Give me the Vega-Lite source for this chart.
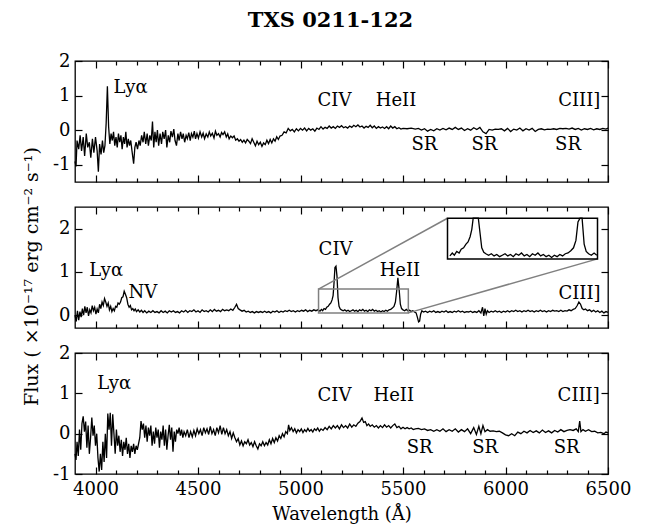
{
"$schema":"https://vega.github.io/schema/vega-lite/v6.json",
"padding":{"left":21,"top":10,"right":10,"bottom":5},
"bounds":"flush",
"title":{"text":"TXS 0211-122","font":"DejaVu Serif","fontWeight":"bold","fontSize":21,"color":"black","anchor":"middle","offset":20,"dx":4},
"config":{
 "view":{"stroke":"black","strokeWidth":1.3},
 "axis":{"grid":false,"domain":false,"labelFont":"DejaVu Serif","labelFontSize":18,"labelColor":"black","titleFont":"DejaVu Serif","titleFontSize":18,"titleFontWeight":"normal","titleColor":"black","tickColor":"black","tickWidth":1.2,"labelFlush":false,"labelOverlap":false},
 "text":{"font":"DejaVu Serif","fontSize":18,"color":"black"}
},
"spacing":25,
"datasets":{
"s1":[
{"w":3900,"f":-0.9},{"w":3905,"f":-1.05},{"w":3910,"f":-0.3},{"w":3918,"f":-0.55},{"w":3925,"f":-0.15},{"w":3932,"f":-0.6},{"w":3940,"f":-0.2},{"w":3947,"f":-0.75},{"w":3955,"f":-0.1},{"w":3962,"f":-0.5},{"w":3970,"f":-0.35},{"w":3977,"f":-0.8},{"w":3985,"f":-0.25},{"w":3992,"f":-0.65},{"w":4000,"f":-0.2},{"w":4008,"f":-0.6},{"w":4014,"f":-1.2},{"w":4020,"f":-0.4},{"w":4027,"f":-0.7},{"w":4034,"f":-0.3},{"w":4040,"f":-0.65},{"w":4046,"f":-0.45},{"w":4052,"f":0.2},{"w":4058,"f":1.27},{"w":4064,"f":0.1},{"w":4070,"f":-0.4},{"w":4076,"f":-0.1},{"w":4082,"f":-0.3},{"w":4088,"f":-0.05},{"w":4094,"f":-0.45},{"w":4100,"f":-0.2},{"w":4106,"f":-0.5},{"w":4112,"f":-0.1},{"w":4118,"f":-0.35},{"w":4124,"f":-0.15},{"w":4130,"f":-0.55},{"w":4136,"f":-0.2},{"w":4142,"f":-0.4},{"w":4148,"f":-0.05},{"w":4154,"f":-0.5},{"w":4160,"f":-0.25},{"w":4166,"f":-0.45},{"w":4172,"f":-0.3},{"w":4178,"f":-0.6},{"w":4186,"f":-0.97},{"w":4192,"f":-0.5},{"w":4198,"f":-0.35},{"w":4205,"f":-0.55},{"w":4212,"f":-0.3},{"w":4218,"f":-0.45},{"w":4225,"f":-0.15},{"w":4232,"f":-0.35},{"w":4238,"f":-0.05},{"w":4245,"f":-0.4},{"w":4252,"f":-0.1},{"w":4258,"f":-0.45},{"w":4265,"f":-0.15},{"w":4272,"f":-0.3},{"w":4278,"f":0.25},{"w":4284,"f":-0.5},{"w":4290,"f":-0.05},{"w":4296,"f":-0.35},{"w":4302,"f":0.0},{"w":4308,"f":-0.45},{"w":4315,"f":-0.1},{"w":4322,"f":-0.4},{"w":4328,"f":-0.05},{"w":4335,"f":-0.25},{"w":4342,"f":0.0},{"w":4348,"f":-0.5},{"w":4355,"f":-0.15},{"w":4362,"f":-0.35},{"w":4368,"f":-0.03},{"w":4375,"f":-0.2},{"w":4382,"f":0.03},{"w":4388,"f":-0.3},{"w":4395,"f":-0.45},{"w":4402,"f":-0.1},{"w":4408,"f":-0.3},{"w":4415,"f":-0.05},{"w":4422,"f":-0.25},{"w":4428,"f":-0.1},{"w":4435,"f":-0.35},{"w":4442,"f":-0.15},{"w":4448,"f":-0.25},{"w":4455,"f":-0.07},{"w":4462,"f":-0.3},{"w":4468,"f":-0.1},{"w":4475,"f":-0.2},{"w":4482,"f":-0.03},{"w":4488,"f":-0.25},{"w":4495,"f":-0.1},{"w":4502,"f":-0.23},{"w":4510,"f":-0.05},{"w":4518,"f":-0.2},{"w":4525,"f":-0.09},{"w":4532,"f":-0.25},{"w":4540,"f":-0.11},{"w":4548,"f":-0.2},{"w":4555,"f":-0.05},{"w":4562,"f":-0.17},{"w":4570,"f":-0.09},{"w":4578,"f":-0.23},{"w":4585,"f":-0.03},{"w":4592,"f":-0.15},{"w":4600,"f":-0.1},{"w":4608,"f":-0.2},{"w":4615,"f":-0.07},{"w":4622,"f":-0.13},{"w":4630,"f":-0.05},{"w":4638,"f":-0.2},{"w":4645,"f":-0.11},{"w":4652,"f":-0.25},{"w":4660,"f":-0.17},{"w":4668,"f":-0.22},{"w":4676,"f":-0.17},{"w":4684,"f":-0.29},{"w":4692,"f":-0.25},{"w":4700,"f":-0.32},{"w":4708,"f":-0.27},{"w":4716,"f":-0.35},{"w":4724,"f":-0.29},{"w":4732,"f":-0.37},{"w":4740,"f":-0.27},{"w":4748,"f":-0.32},{"w":4756,"f":-0.39},{"w":4764,"f":-0.25},{"w":4772,"f":-0.35},{"w":4780,"f":-0.45},{"w":4788,"f":-0.32},{"w":4796,"f":-0.42},{"w":4804,"f":-0.35},{"w":4812,"f":-0.47},{"w":4820,"f":-0.37},{"w":4828,"f":-0.42},{"w":4836,"f":-0.29},{"w":4844,"f":-0.39},{"w":4852,"f":-0.27},{"w":4860,"f":-0.37},{"w":4868,"f":-0.25},{"w":4876,"f":-0.32},{"w":4884,"f":-0.19},{"w":4892,"f":-0.27},{"w":4900,"f":-0.17},{"w":4910,"f":-0.15},{"w":4920,"f":-0.05},{"w":4930,"f":-0.08},{"w":4940,"f":0.05},{"w":4950,"f":-0.02},{"w":4960,"f":0.02},{"w":4970,"f":-0.05},{"w":4980,"f":0.04},{"w":4990,"f":-0.02},{"w":5000,"f":0.05},{"w":5010,"f":0.0},{"w":5020,"f":0.06},{"w":5030,"f":-0.02},{"w":5040,"f":0.05},{"w":5050,"f":0.0},{"w":5060,"f":0.04},{"w":5070,"f":-0.03},{"w":5080,"f":0.06},{"w":5090,"f":0.02},{"w":5100,"f":0.1},{"w":5110,"f":0.03},{"w":5120,"f":0.08},{"w":5130,"f":0.05},{"w":5140,"f":0.12},{"w":5150,"f":0.06},{"w":5160,"f":0.1},{"w":5170,"f":0.05},{"w":5180,"f":0.12},{"w":5190,"f":0.08},{"w":5200,"f":0.13},{"w":5210,"f":0.07},{"w":5220,"f":0.1},{"w":5230,"f":0.06},{"w":5240,"f":0.12},{"w":5250,"f":0.08},{"w":5260,"f":0.14},{"w":5270,"f":0.1},{"w":5280,"f":0.15},{"w":5290,"f":0.09},{"w":5300,"f":0.12},{"w":5310,"f":0.06},{"w":5320,"f":0.11},{"w":5330,"f":0.08},{"w":5340,"f":0.14},{"w":5350,"f":0.07},{"w":5360,"f":0.12},{"w":5370,"f":0.05},{"w":5380,"f":0.1},{"w":5390,"f":0.06},{"w":5400,"f":0.09},{"w":5410,"f":0.05},{"w":5420,"f":0.1},{"w":5430,"f":0.04},{"w":5440,"f":0.12},{"w":5450,"f":0.06},{"w":5460,"f":0.1},{"w":5470,"f":0.04},{"w":5480,"f":0.07},{"w":5490,"f":0.03},{"w":5500,"f":0.05},{"w":5520,"f":0.04},{"w":5540,"f":0.06},{"w":5560,"f":0.03},{"w":5575,"f":0.05},{"w":5590,"f":0.0},{"w":5605,"f":0.04},{"w":5620,"f":-0.03},{"w":5635,"f":0.02},{"w":5650,"f":-0.02},{"w":5665,"f":0.04},{"w":5680,"f":0.0},{"w":5695,"f":0.05},{"w":5710,"f":0.01},{"w":5725,"f":0.06},{"w":5740,"f":0.02},{"w":5755,"f":0.08},{"w":5770,"f":0.02},{"w":5785,"f":0.06},{"w":5800,"f":-0.01},{"w":5815,"f":0.04},{"w":5830,"f":0.0},{"w":5845,"f":0.07},{"w":5860,"f":0.02},{"w":5875,"f":0.08},{"w":5890,"f":-0.05},{"w":5905,"f":-0.1},{"w":5920,"f":0.02},{"w":5935,"f":0.0},{"w":5950,"f":0.03},{"w":5965,"f":0.02},{"w":5980,"f":0.04},{"w":5995,"f":-0.02},{"w":6010,"f":0.05},{"w":6025,"f":-0.04},{"w":6040,"f":0.03},{"w":6055,"f":0.0},{"w":6070,"f":0.06},{"w":6085,"f":-0.02},{"w":6100,"f":0.04},{"w":6115,"f":0.0},{"w":6130,"f":0.05},{"w":6145,"f":-0.04},{"w":6160,"f":0.02},{"w":6175,"f":0.04},{"w":6190,"f":0.01},{"w":6205,"f":0.03},{"w":6220,"f":0.02},{"w":6235,"f":0.04},{"w":6250,"f":0.02},{"w":6265,"f":0.05},{"w":6280,"f":0.04},{"w":6295,"f":0.05},{"w":6310,"f":0.03},{"w":6325,"f":0.06},{"w":6340,"f":0.02},{"w":6355,"f":0.05},{"w":6370,"f":0.0},{"w":6385,"f":0.04},{"w":6400,"f":0.02},{"w":6415,"f":0.05},{"w":6430,"f":0.01},{"w":6445,"f":0.04},{"w":6460,"f":0.02},{"w":6475,"f":0.05},{"w":6490,"f":0.03},{"w":6500,"f":0.06}
],
"s2":[
{"w":3900,"f":0.0},{"w":3906,"f":-0.15},{"w":3912,"f":0.1},{"w":3918,"f":-0.12},{"w":3924,"f":0.08},{"w":3930,"f":-0.05},{"w":3936,"f":0.15},{"w":3942,"f":0.0},{"w":3948,"f":0.2},{"w":3954,"f":0.05},{"w":3960,"f":0.18},{"w":3966,"f":-0.02},{"w":3972,"f":0.12},{"w":3978,"f":0.05},{"w":3984,"f":0.22},{"w":3990,"f":0.1},{"w":3996,"f":0.18},{"w":4002,"f":0.02},{"w":4008,"f":0.14},{"w":4014,"f":0.05},{"w":4020,"f":0.25},{"w":4026,"f":0.15},{"w":4032,"f":0.3},{"w":4038,"f":0.22},{"w":4044,"f":0.38},{"w":4050,"f":0.3},{"w":4056,"f":0.2},{"w":4062,"f":0.28},{"w":4068,"f":0.12},{"w":4074,"f":0.2},{"w":4080,"f":0.08},{"w":4086,"f":0.15},{"w":4092,"f":0.1},{"w":4098,"f":0.2},{"w":4104,"f":0.18},{"w":4110,"f":0.28},{"w":4116,"f":0.25},{"w":4122,"f":0.3},{"w":4128,"f":0.4},{"w":4134,"f":0.42},{"w":4140,"f":0.55},{"w":4146,"f":0.48},{"w":4152,"f":0.4},{"w":4158,"f":0.25},{"w":4164,"f":0.18},{"w":4170,"f":0.22},{"w":4176,"f":0.12},{"w":4182,"f":0.15},{"w":4188,"f":0.1},{"w":4194,"f":0.14},{"w":4200,"f":0.08},{"w":4208,"f":0.12},{"w":4216,"f":0.07},{"w":4224,"f":0.11},{"w":4232,"f":0.06},{"w":4240,"f":0.1},{"w":4250,"f":0.05},{"w":4260,"f":0.09},{"w":4270,"f":0.06},{"w":4280,"f":0.1},{"w":4290,"f":0.06},{"w":4300,"f":0.08},{"w":4310,"f":0.05},{"w":4320,"f":0.1},{"w":4330,"f":0.06},{"w":4340,"f":0.09},{"w":4350,"f":0.05},{"w":4360,"f":0.1},{"w":4370,"f":0.07},{"w":4380,"f":0.1},{"w":4390,"f":0.06},{"w":4400,"f":0.08},{"w":4410,"f":0.05},{"w":4420,"f":0.1},{"w":4430,"f":0.07},{"w":4440,"f":0.11},{"w":4450,"f":0.06},{"w":4460,"f":0.1},{"w":4470,"f":0.08},{"w":4480,"f":0.12},{"w":4490,"f":0.07},{"w":4500,"f":0.1},{"w":4510,"f":0.06},{"w":4520,"f":0.12},{"w":4530,"f":0.08},{"w":4540,"f":0.1},{"w":4550,"f":0.07},{"w":4560,"f":0.12},{"w":4570,"f":0.08},{"w":4580,"f":0.13},{"w":4590,"f":0.09},{"w":4600,"f":0.11},{"w":4610,"f":0.08},{"w":4620,"f":0.13},{"w":4630,"f":0.1},{"w":4640,"f":0.12},{"w":4650,"f":0.1},{"w":4660,"f":0.14},{"w":4670,"f":0.11},{"w":4680,"f":0.18},{"w":4688,"f":0.25},{"w":4696,"f":0.15},{"w":4705,"f":0.12},{"w":4715,"f":0.09},{"w":4725,"f":0.11},{"w":4735,"f":0.07},{"w":4745,"f":0.09},{"w":4755,"f":0.06},{"w":4765,"f":0.08},{"w":4775,"f":0.05},{"w":4785,"f":0.08},{"w":4795,"f":0.06},{"w":4805,"f":0.08},{"w":4815,"f":0.06},{"w":4825,"f":0.09},{"w":4835,"f":0.06},{"w":4845,"f":0.08},{"w":4855,"f":0.05},{"w":4865,"f":0.09},{"w":4875,"f":0.07},{"w":4885,"f":0.1},{"w":4895,"f":0.06},{"w":4905,"f":0.09},{"w":4915,"f":0.07},{"w":4925,"f":0.1},{"w":4935,"f":0.08},{"w":4945,"f":0.11},{"w":4955,"f":0.08},{"w":4965,"f":0.1},{"w":4975,"f":0.07},{"w":4985,"f":0.1},{"w":4995,"f":0.08},{"w":5005,"f":0.11},{"w":5015,"f":0.09},{"w":5025,"f":0.12},{"w":5035,"f":0.08},{"w":5045,"f":0.11},{"w":5055,"f":0.09},{"w":5065,"f":0.12},{"w":5075,"f":0.1},{"w":5085,"f":0.12},{"w":5095,"f":0.09},{"w":5102,"f":0.13},{"w":5108,"f":0.1},{"w":5115,"f":0.15},{"w":5122,"f":0.13},{"w":5128,"f":0.18},{"w":5135,"f":0.2},{"w":5142,"f":0.25},{"w":5148,"f":0.28},{"w":5154,"f":0.35},{"w":5159,"f":0.45},{"w":5163,"f":0.7},{"w":5168,"f":1.1},{"w":5173,"f":1.13},{"w":5178,"f":0.9},{"w":5183,"f":0.4},{"w":5188,"f":0.2},{"w":5194,"f":0.14},{"w":5200,"f":0.12},{"w":5208,"f":0.1},{"w":5216,"f":0.12},{"w":5224,"f":0.09},{"w":5232,"f":0.11},{"w":5240,"f":0.08},{"w":5248,"f":0.1},{"w":5256,"f":0.12},{"w":5264,"f":0.09},{"w":5272,"f":0.11},{"w":5280,"f":0.08},{"w":5288,"f":0.12},{"w":5296,"f":0.1},{"w":5304,"f":0.13},{"w":5312,"f":0.09},{"w":5320,"f":0.11},{"w":5328,"f":0.08},{"w":5336,"f":0.12},{"w":5344,"f":0.1},{"w":5352,"f":0.13},{"w":5360,"f":0.09},{"w":5368,"f":0.11},{"w":5376,"f":0.08},{"w":5384,"f":0.1},{"w":5392,"f":0.07},{"w":5400,"f":0.1},{"w":5408,"f":0.08},{"w":5416,"f":0.11},{"w":5424,"f":0.09},{"w":5432,"f":0.12},{"w":5440,"f":0.13},{"w":5448,"f":0.16},{"w":5456,"f":0.2},{"w":5463,"f":0.3},{"w":5469,"f":0.55},{"w":5475,"f":0.86},{"w":5481,"f":0.6},{"w":5487,"f":0.25},{"w":5493,"f":0.15},{"w":5500,"f":0.12},{"w":5508,"f":0.1},{"w":5516,"f":0.13},{"w":5524,"f":0.1},{"w":5532,"f":0.11},{"w":5540,"f":0.08},{"w":5548,"f":0.1},{"w":5556,"f":0.07},{"w":5564,"f":0.05},{"w":5570,"f":-0.05},{"w":5576,"f":-0.16},{"w":5581,"f":-0.14},{"w":5586,"f":0.02},{"w":5592,"f":0.1},{"w":5600,"f":0.07},{"w":5610,"f":0.09},{"w":5620,"f":0.06},{"w":5630,"f":0.09},{"w":5640,"f":0.07},{"w":5650,"f":0.1},{"w":5660,"f":0.06},{"w":5670,"f":0.08},{"w":5680,"f":0.06},{"w":5690,"f":0.09},{"w":5700,"f":0.07},{"w":5710,"f":0.1},{"w":5720,"f":0.06},{"w":5730,"f":0.08},{"w":5740,"f":0.06},{"w":5750,"f":0.09},{"w":5760,"f":0.07},{"w":5770,"f":0.1},{"w":5780,"f":0.07},{"w":5790,"f":0.09},{"w":5800,"f":0.06},{"w":5810,"f":0.08},{"w":5820,"f":0.07},{"w":5830,"f":0.09},{"w":5840,"f":0.06},{"w":5850,"f":0.08},{"w":5860,"f":0.06},{"w":5870,"f":0.1},{"w":5880,"f":0.05},{"w":5888,"f":0.18},{"w":5894,"f":-0.02},{"w":5900,"f":0.15},{"w":5906,"f":0.02},{"w":5912,"f":0.1},{"w":5920,"f":0.06},{"w":5930,"f":0.09},{"w":5940,"f":0.07},{"w":5950,"f":0.1},{"w":5960,"f":0.07},{"w":5970,"f":0.09},{"w":5980,"f":0.06},{"w":5990,"f":0.09},{"w":6000,"f":0.07},{"w":6010,"f":0.1},{"w":6020,"f":0.07},{"w":6030,"f":0.1},{"w":6040,"f":0.08},{"w":6050,"f":0.11},{"w":6060,"f":0.08},{"w":6070,"f":0.1},{"w":6080,"f":0.07},{"w":6090,"f":0.1},{"w":6100,"f":0.08},{"w":6110,"f":0.11},{"w":6120,"f":0.08},{"w":6130,"f":0.1},{"w":6140,"f":0.07},{"w":6150,"f":0.1},{"w":6160,"f":0.08},{"w":6170,"f":0.11},{"w":6180,"f":0.08},{"w":6190,"f":0.1},{"w":6200,"f":0.07},{"w":6210,"f":0.1},{"w":6220,"f":0.08},{"w":6230,"f":0.11},{"w":6240,"f":0.09},{"w":6250,"f":0.1},{"w":6260,"f":0.08},{"w":6270,"f":0.11},{"w":6280,"f":0.08},{"w":6290,"f":0.1},{"w":6300,"f":0.09},{"w":6310,"f":0.12},{"w":6320,"f":0.1},{"w":6330,"f":0.13},{"w":6340,"f":0.15},{"w":6350,"f":0.22},{"w":6358,"f":0.3},{"w":6366,"f":0.25},{"w":6374,"f":0.15},{"w":6382,"f":0.12},{"w":6390,"f":0.14},{"w":6400,"f":0.1},{"w":6410,"f":0.12},{"w":6420,"f":0.08},{"w":6430,"f":0.11},{"w":6440,"f":0.07},{"w":6450,"f":0.1},{"w":6460,"f":0.06},{"w":6470,"f":0.09},{"w":6480,"f":0.05},{"w":6490,"f":0.08},{"w":6500,"f":0.06}
],
"s3":[
{"w":3900,"f":-0.5},{"w":3905,"f":-0.65},{"w":3910,"f":-0.2},{"w":3916,"f":-0.55},{"w":3922,"f":0.1},{"w":3928,"f":-0.4},{"w":3934,"f":0.25},{"w":3940,"f":0.43},{"w":3946,"f":0.05},{"w":3952,"f":0.3},{"w":3958,"f":-0.35},{"w":3964,"f":0.2},{"w":3970,"f":-0.5},{"w":3976,"f":-0.1},{"w":3982,"f":0.4},{"w":3988,"f":-0.05},{"w":3994,"f":0.2},{"w":4000,"f":-0.3},{"w":4006,"f":0.0},{"w":4012,"f":-0.6},{"w":4018,"f":-0.94},{"w":4024,"f":-0.5},{"w":4030,"f":-0.9},{"w":4036,"f":-0.2},{"w":4042,"f":-0.7},{"w":4048,"f":0.0},{"w":4054,"f":-0.6},{"w":4060,"f":0.5},{"w":4066,"f":0.1},{"w":4072,"f":0.52},{"w":4078,"f":-0.3},{"w":4084,"f":0.48},{"w":4090,"f":0.0},{"w":4096,"f":-0.5},{"w":4102,"f":0.1},{"w":4108,"f":-0.3},{"w":4114,"f":-0.05},{"w":4120,"f":-0.45},{"w":4126,"f":-0.15},{"w":4132,"f":-0.55},{"w":4138,"f":-0.2},{"w":4144,"f":-0.4},{"w":4150,"f":-0.1},{"w":4156,"f":-0.5},{"w":4162,"f":-0.25},{"w":4168,"f":-0.6},{"w":4174,"f":-0.3},{"w":4180,"f":-0.45},{"w":4186,"f":-0.25},{"w":4192,"f":-0.5},{"w":4198,"f":-0.3},{"w":4204,"f":-0.4},{"w":4210,"f":-0.25},{"w":4216,"f":-0.1},{"w":4222,"f":0.31},{"w":4228,"f":0.1},{"w":4234,"f":0.25},{"w":4240,"f":-0.1},{"w":4246,"f":0.2},{"w":4252,"f":-0.2},{"w":4258,"f":0.15},{"w":4264,"f":-0.05},{"w":4270,"f":0.2},{"w":4276,"f":-0.3},{"w":4282,"f":0.05},{"w":4288,"f":-0.25},{"w":4294,"f":0.15},{"w":4300,"f":-0.1},{"w":4306,"f":0.1},{"w":4312,"f":-0.35},{"w":4318,"f":0.05},{"w":4324,"f":-0.15},{"w":4330,"f":0.2},{"w":4336,"f":-0.3},{"w":4342,"f":0.1},{"w":4348,"f":-0.4},{"w":4354,"f":-0.05},{"w":4360,"f":0.22},{"w":4366,"f":-0.15},{"w":4372,"f":0.15},{"w":4378,"f":-0.45},{"w":4384,"f":0.05},{"w":4390,"f":-0.2},{"w":4396,"f":0.1},{"w":4402,"f":0.0},{"w":4408,"f":0.15},{"w":4414,"f":-0.05},{"w":4420,"f":0.1},{"w":4426,"f":-0.1},{"w":4432,"f":0.05},{"w":4440,"f":-0.05},{"w":4448,"f":0.1},{"w":4456,"f":-0.1},{"w":4464,"f":0.05},{"w":4472,"f":-0.08},{"w":4480,"f":0.08},{"w":4488,"f":-0.05},{"w":4496,"f":0.12},{"w":4504,"f":0.0},{"w":4512,"f":0.1},{"w":4520,"f":-0.05},{"w":4528,"f":0.15},{"w":4536,"f":0.02},{"w":4544,"f":0.12},{"w":4552,"f":-0.02},{"w":4560,"f":0.18},{"w":4568,"f":0.0},{"w":4576,"f":0.1},{"w":4584,"f":-0.05},{"w":4592,"f":0.15},{"w":4600,"f":0.02},{"w":4608,"f":0.2},{"w":4616,"f":-0.02},{"w":4624,"f":0.15},{"w":4632,"f":0.0},{"w":4640,"f":0.1},{"w":4648,"f":-0.05},{"w":4656,"f":0.05},{"w":4664,"f":-0.12},{"w":4672,"f":0.02},{"w":4680,"f":-0.1},{"w":4688,"f":-0.2},{"w":4696,"f":-0.12},{"w":4704,"f":-0.28},{"w":4712,"f":-0.18},{"w":4720,"f":-0.3},{"w":4728,"f":-0.2},{"w":4736,"f":-0.25},{"w":4744,"f":-0.15},{"w":4752,"f":-0.28},{"w":4760,"f":-0.22},{"w":4768,"f":-0.32},{"w":4776,"f":-0.2},{"w":4784,"f":-0.3},{"w":4792,"f":-0.38},{"w":4800,"f":-0.25},{"w":4808,"f":-0.3},{"w":4816,"f":-0.2},{"w":4824,"f":-0.3},{"w":4832,"f":-0.22},{"w":4840,"f":-0.28},{"w":4848,"f":-0.15},{"w":4856,"f":-0.25},{"w":4864,"f":-0.12},{"w":4872,"f":-0.22},{"w":4880,"f":-0.1},{"w":4888,"f":-0.18},{"w":4896,"f":-0.05},{"w":4904,"f":-0.12},{"w":4912,"f":0.0},{"w":4920,"f":-0.08},{"w":4928,"f":0.05},{"w":4936,"f":0.0},{"w":4942,"f":0.22},{"w":4948,"f":0.08},{"w":4956,"f":0.15},{"w":4964,"f":0.05},{"w":4972,"f":0.12},{"w":4980,"f":0.02},{"w":4988,"f":0.1},{"w":4996,"f":0.05},{"w":5004,"f":0.12},{"w":5012,"f":0.03},{"w":5020,"f":0.1},{"w":5028,"f":0.05},{"w":5036,"f":0.13},{"w":5044,"f":0.06},{"w":5052,"f":0.1},{"w":5060,"f":0.04},{"w":5068,"f":0.12},{"w":5076,"f":0.08},{"w":5084,"f":0.14},{"w":5092,"f":0.06},{"w":5100,"f":0.12},{"w":5110,"f":0.08},{"w":5120,"f":0.15},{"w":5130,"f":0.1},{"w":5140,"f":0.18},{"w":5150,"f":0.12},{"w":5160,"f":0.2},{"w":5170,"f":0.14},{"w":5180,"f":0.2},{"w":5190,"f":0.12},{"w":5200,"f":0.22},{"w":5210,"f":0.15},{"w":5220,"f":0.2},{"w":5230,"f":0.14},{"w":5240,"f":0.24},{"w":5250,"f":0.16},{"w":5260,"f":0.22},{"w":5270,"f":0.18},{"w":5280,"f":0.26},{"w":5290,"f":0.3},{"w":5300,"f":0.39},{"w":5308,"f":0.28},{"w":5316,"f":0.3},{"w":5324,"f":0.2},{"w":5332,"f":0.24},{"w":5340,"f":0.18},{"w":5350,"f":0.22},{"w":5360,"f":0.16},{"w":5370,"f":0.2},{"w":5380,"f":0.14},{"w":5390,"f":0.2},{"w":5400,"f":0.15},{"w":5410,"f":0.22},{"w":5420,"f":0.16},{"w":5430,"f":0.2},{"w":5440,"f":0.14},{"w":5450,"f":0.2},{"w":5460,"f":0.24},{"w":5470,"f":0.15},{"w":5480,"f":0.18},{"w":5490,"f":0.12},{"w":5500,"f":0.16},{"w":5510,"f":0.12},{"w":5520,"f":0.15},{"w":5530,"f":0.12},{"w":5540,"f":0.14},{"w":5550,"f":0.1},{"w":5560,"f":0.12},{"w":5575,"f":0.13},{"w":5590,"f":0.1},{"w":5605,"f":0.12},{"w":5620,"f":0.08},{"w":5635,"f":0.1},{"w":5650,"f":0.06},{"w":5665,"f":0.1},{"w":5680,"f":0.06},{"w":5695,"f":0.12},{"w":5710,"f":0.05},{"w":5725,"f":0.1},{"w":5740,"f":0.06},{"w":5755,"f":0.12},{"w":5770,"f":0.04},{"w":5785,"f":0.1},{"w":5800,"f":0.05},{"w":5815,"f":0.12},{"w":5830,"f":0.0},{"w":5845,"f":0.15},{"w":5858,"f":-0.02},{"w":5870,"f":0.18},{"w":5880,"f":0.0},{"w":5890,"f":0.2},{"w":5900,"f":0.05},{"w":5912,"f":0.1},{"w":5925,"f":0.06},{"w":5940,"f":0.07},{"w":5955,"f":0.05},{"w":5970,"f":0.06},{"w":5985,"f":0.02},{"w":6000,"f":-0.03},{"w":6015,"f":-0.05},{"w":6030,"f":0.0},{"w":6045,"f":-0.05},{"w":6060,"f":0.04},{"w":6075,"f":0.0},{"w":6090,"f":0.06},{"w":6105,"f":0.02},{"w":6120,"f":0.08},{"w":6135,"f":0.03},{"w":6150,"f":0.07},{"w":6165,"f":0.02},{"w":6180,"f":0.09},{"w":6195,"f":0.03},{"w":6210,"f":0.07},{"w":6225,"f":0.02},{"w":6240,"f":0.08},{"w":6255,"f":0.04},{"w":6270,"f":0.1},{"w":6285,"f":0.05},{"w":6300,"f":0.08},{"w":6315,"f":0.1},{"w":6330,"f":0.08},{"w":6345,"f":0.12},{"w":6355,"f":0.05},{"w":6362,"f":0.31},{"w":6368,"f":0.05},{"w":6378,"f":0.1},{"w":6390,"f":0.06},{"w":6405,"f":0.1},{"w":6420,"f":0.05},{"w":6435,"f":0.06},{"w":6450,"f":0.02},{"w":6465,"f":0.03},{"w":6480,"f":0.0},{"w":6490,"f":0.04},{"w":6500,"f":0.02}
],
"lab":[
{"p":1,"w":4171,"f":1.22,"t":"Lyα"},{"p":1,"w":5166,"f":0.84,"t":"CIV"},{"p":1,"w":5466,"f":0.84,"t":"HeII"},{"p":1,"w":6360,"f":0.84,"t":"CIII]"},{"p":1,"w":5604,"f":-0.43,"t":"SR"},{"p":1,"w":5897,"f":-0.43,"t":"SR"},{"p":1,"w":6305,"f":-0.43,"t":"SR"},
{"p":2,"w":4052,"f":1.01,"t":"Lyα"},{"p":2,"w":4231,"f":0.51,"t":"NV"},{"p":2,"w":5171,"f":1.51,"t":"CIV"},{"p":2,"w":5485,"f":1.03,"t":"HeII"},{"p":2,"w":6361,"f":0.48,"t":"CIII]"},
{"p":3,"w":4091,"f":1.22,"t":"Lyα"},{"p":3,"w":5166,"f":0.93,"t":"CIV"},{"p":3,"w":5455,"f":0.93,"t":"HeII"},{"p":3,"w":6357,"f":0.93,"t":"CIII]"},{"p":3,"w":5581,"f":-0.36,"t":"SR"},{"p":3,"w":5901,"f":-0.36,"t":"SR"},{"p":3,"w":6298,"f":-0.36,"t":"SR"}
],
"box":[{"x1":5088,"x2":5526,"y1":0.05,"y2":0.6}],
"conn":[{"x1":5088,"y1":0.6,"x2":5717,"y2":2.24},{"x1":5526,"y1":0.05,"x2":6449,"y2":1.3}]
},
"vconcat":[
{"width":533,"height":121,
 "resolve":{"scale":{"x":"independent","y":"independent"}},
 "layer":[
  {"data":{"name":"s1"},"mark":{"type":"line","color":"black","strokeWidth":1.3},
   "encoding":{"x":{"field":"w","type":"quantitative","scale":{"domain":[3900,6500],"nice":false,"zero":false},
     "axis":{"orient":"bottom","values":[4000,4100,4200,4300,4400,4500,4600,4700,4800,4900,5000,5100,5200,5300,5400,5500,5600,5700,5800,5900,6000,6100,6200,6300,6400,6500],"labels":false,"title":null,"tickSize":{"condition":{"test":"datum.value % 500 === 0","value":-7},"value":-4}}},
    "y":{"field":"f","type":"quantitative","scale":{"domain":[-1.5,2],"nice":false,"zero":false},
     "axis":{"orient":"left","values":[-1,0,1,2],"tickSize":-7,"labelPadding":12,"labelExpr":"'' + datum.value","title":null}}}},
  {"data":{"name":"lab"},"transform":[{"filter":"datum.p === 1"}],"mark":{"type":"text"},
   "encoding":{"x":{"field":"w","type":"quantitative","scale":{"domain":[3900,6500],"nice":false,"zero":false},
     "axis":{"orient":"top","values":[4000,4100,4200,4300,4400,4500,4600,4700,4800,4900,5000,5100,5200,5300,5400,5500,5600,5700,5800,5900,6000,6100,6200,6300,6400,6500],"labels":false,"title":null,"tickSize":{"condition":{"test":"datum.value % 500 === 0","value":-7},"value":-4}}},
    "y":{"field":"f","type":"quantitative","scale":{"domain":[-1.5,2],"nice":false,"zero":false},
     "axis":{"orient":"right","values":[-1,0,1,2],"tickSize":-7,"labels":false,"title":null}},
    "text":{"field":"t"}}}
 ]},
{"width":533,"height":121,
 "resolve":{"scale":{"x":"independent","y":"independent"}},
 "layer":[
  {"data":{"name":"s2"},"mark":{"type":"line","color":"black","strokeWidth":1.3},
   "encoding":{"x":{"field":"w","type":"quantitative","scale":{"domain":[3900,6500],"nice":false,"zero":false},
     "axis":{"orient":"bottom","values":[4000,4100,4200,4300,4400,4500,4600,4700,4800,4900,5000,5100,5200,5300,5400,5500,5600,5700,5800,5900,6000,6100,6200,6300,6400,6500],"labels":false,"title":null,"tickSize":{"condition":{"test":"datum.value % 500 === 0","value":-7},"value":-4}}},
    "y":{"field":"f","type":"quantitative","scale":{"domain":[-0.3,2.5],"nice":false,"zero":false},
     "axis":{"orient":"left","values":[0,1,2],"tickSize":-7,"labelPadding":12,"labelExpr":"'' + datum.value","title":"Flux ( ×10⁻¹⁷ erg cm⁻² s⁻¹)","titleFontSize":19,"titleX":-38,"titleY":69,"titleBaseline":"alphabetic","titleAngle":270}}}},
  {"data":{"name":"lab"},"transform":[{"filter":"datum.p === 2"}],"mark":{"type":"text"},
   "encoding":{"x":{"field":"w","type":"quantitative","scale":{"domain":[3900,6500],"nice":false,"zero":false},
     "axis":{"orient":"top","values":[4000,4100,4200,4300,4400,4500,4600,4700,4800,4900,5000,5100,5200,5300,5400,5500,5600,5700,5800,5900,6000,6100,6200,6300,6400,6500],"labels":false,"title":null,"tickSize":{"condition":{"test":"datum.value % 500 === 0","value":-7},"value":-4}}},
    "y":{"field":"f","type":"quantitative","scale":{"domain":[-0.3,2.5],"nice":false,"zero":false},
     "axis":{"orient":"right","values":[0,1,2],"tickSize":-7,"labels":false,"title":null}},
    "text":{"field":"t"}}},
  {"data":{"name":"box"},"mark":{"type":"rect","fill":null,"stroke":"#808080","strokeWidth":1.5},
   "encoding":{"x":{"field":"x1","type":"quantitative","scale":{"domain":[3900,6500],"nice":false,"zero":false},"axis":null},"x2":{"field":"x2"},
    "y":{"field":"y1","type":"quantitative","scale":{"domain":[-0.3,2.5],"nice":false,"zero":false},"axis":null},"y2":{"field":"y2"}}},
  {"data":{"name":"conn"},"mark":{"type":"rule","stroke":"#808080","strokeWidth":1.5},
   "encoding":{"x":{"field":"x1","type":"quantitative","scale":{"domain":[3900,6500],"nice":false,"zero":false},"axis":null},"x2":{"field":"x2"},
    "y":{"field":"y1","type":"quantitative","scale":{"domain":[-0.3,2.5],"nice":false,"zero":false},"axis":null},"y2":{"field":"y2"}}},
  {"data":{"name":"s2"},"transform":[{"filter":{"field":"w","range":[5088,5526]}}],"mark":{"type":"line","color":"black","strokeWidth":1.3},
   "encoding":{"x":{"field":"w","type":"quantitative","scale":{"domain":[5088,5526],"range":[372.5,522.5],"nice":false,"zero":false,"clamp":true},"axis":null},
    "y":{"field":"f","type":"quantitative","scale":{"domain":[0.05,0.6],"range":[51.9,11.2],"nice":false,"zero":false,"clamp":true},"axis":null}}},
  {"data":{"name":"box"},"mark":{"type":"rect","fill":null,"stroke":"black","strokeWidth":1.5},
   "encoding":{"x":{"field":"x1","type":"quantitative","scale":{"domain":[5088,5526],"range":[372.5,522.5],"nice":false,"zero":false},"axis":null},"x2":{"field":"x2"},
    "y":{"field":"y1","type":"quantitative","scale":{"domain":[0.05,0.6],"range":[51.9,11.2],"nice":false,"zero":false},"axis":null},"y2":{"field":"y2"}}}
 ]},
{"width":533,"height":121,
 "resolve":{"scale":{"x":"independent","y":"independent"}},
 "layer":[
  {"data":{"name":"s3"},"mark":{"type":"line","color":"black","strokeWidth":1.3},
   "encoding":{"x":{"field":"w","type":"quantitative","scale":{"domain":[3900,6500],"nice":false,"zero":false},
     "axis":{"orient":"bottom","values":[4000,4100,4200,4300,4400,4500,4600,4700,4800,4900,5000,5100,5200,5300,5400,5500,5600,5700,5800,5900,6000,6100,6200,6300,6400,6500],"labelExpr":"datum.value % 500 === 0 ? '' + datum.value : ''","labelPadding":13,"title":"Wavelength (Å)","titlePadding":4,"tickSize":{"condition":{"test":"datum.value % 500 === 0","value":-7},"value":-4}}},
    "y":{"field":"f","type":"quantitative","scale":{"domain":[-1,2],"nice":false,"zero":false},
     "axis":{"orient":"left","values":[-1,0,1,2],"tickSize":-7,"labelPadding":12,"labelExpr":"'' + datum.value","title":null}}}},
  {"data":{"name":"lab"},"transform":[{"filter":"datum.p === 3"}],"mark":{"type":"text"},
   "encoding":{"x":{"field":"w","type":"quantitative","scale":{"domain":[3900,6500],"nice":false,"zero":false},
     "axis":{"orient":"top","values":[4000,4100,4200,4300,4400,4500,4600,4700,4800,4900,5000,5100,5200,5300,5400,5500,5600,5700,5800,5900,6000,6100,6200,6300,6400,6500],"labels":false,"title":null,"tickSize":{"condition":{"test":"datum.value % 500 === 0","value":-7},"value":-4}}},
    "y":{"field":"f","type":"quantitative","scale":{"domain":[-1,2],"nice":false,"zero":false},
     "axis":{"orient":"right","values":[-1,0,1,2],"tickSize":-7,"labels":false,"title":null}},
    "text":{"field":"t"}}}
 ]}
]
}
